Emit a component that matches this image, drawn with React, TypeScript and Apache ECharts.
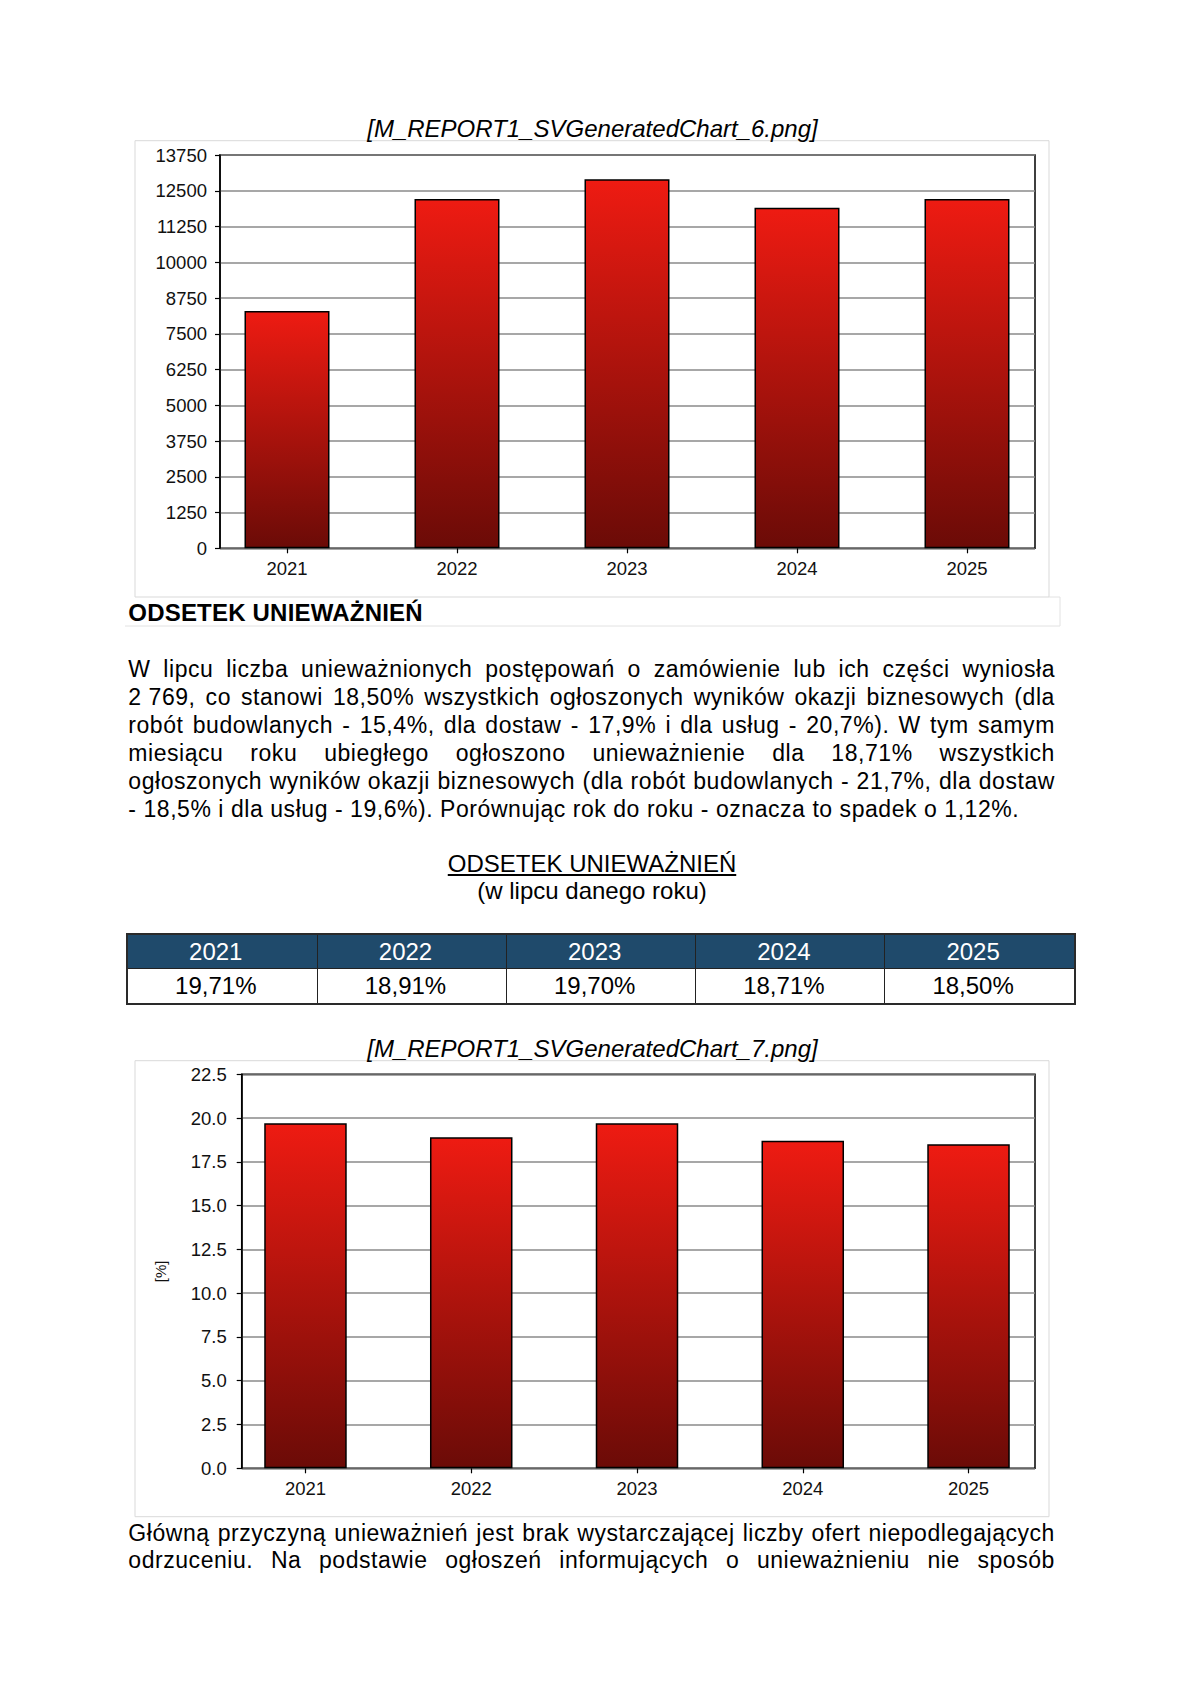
import React, { useEffect, useRef } from "react";
import * as echarts from "echarts";

// ---- data ----
const years = ["2021", "2022", "2023", "2024", "2025"];
const countValues = [8300, 12210, 12900, 11910, 12210];
const percentValues = [19.71, 18.91, 19.7, 18.71, 18.5];
const percentLabels = ["19,71%", "18,91%", "19,70%", "18,71%", "18,50%"];
const countAxis = { min: 0, max: 13750, interval: 1250 };
const percentAxis = { min: 0, max: 22.5, interval: 2.5 };

const chart1Title = "[M_REPORT1_SVGeneratedChart_6.png]";
const chart2Title = "[M_REPORT1_SVGeneratedChart_7.png]";
const heading = "ODSETEK UNIEWAŻNIEŃ";
const paragraphLines = [
  "W lipcu liczba unieważnionych postępowań o zamówienie lub ich części wyniosła",
  "2\u00a0769, co stanowi 18,50% wszystkich ogłoszonych wyników okazji biznesowych (dla",
  "robót budowlanych - 15,4%, dla dostaw - 17,9% i dla usług - 20,7%). W tym samym",
  "miesiącu roku ubiegłego ogłoszono unieważnienie dla 18,71% wszystkich",
  "ogłoszonych wyników okazji biznesowych (dla robót budowlanych - 21,7%, dla dostaw",
];
const paragraphLastLine =
  "- 18,5% i dla usług - 19,6%). Porównując rok do roku - oznacza to spadek o 1,12%.";
const tableTitle = "ODSETEK UNIEWAŻNIEŃ";
const tableSubtitle = "(w lipcu danego roku)";
const finalLines = [
  "Główną przyczyną unieważnień jest brak wystarczającej liczby ofert niepodlegających",
  "odrzuceniu. Na podstawie ogłoszeń informujących o unieważnieniu nie sposób",
];

const FONT = '"Liberation Sans", Arial, Helvetica, sans-serif';
const BODY_SIZE = 23;
const BODY_SPACING = "0.55px";

function barGradient() {
  return new echarts.graphic.LinearGradient(0, 0, 0, 1, [
    { offset: 0, color: "#EE1B12" },
    { offset: 1, color: "#6B0B07" },
  ]);
}

const axisLabelStyle = { fontFamily: FONT, fontSize: 18.5, color: "#111" };

function JustLine({ text, top }: { text: string; top: number }) {
  const words = text.split(" ");
  return (
    <div
      style={{
        position: "absolute",
        left: 128.3,
        width: 926.7,
        top,
        height: 28,
        lineHeight: "28px",
        fontSize: BODY_SIZE,
        letterSpacing: BODY_SPACING,
        fontFamily: FONT,
        color: "#000",
        display: "flex",
        justifyContent: "space-between",
        whiteSpace: "nowrap",
      }}
    >
      {words.map((w, i) => (
        <span key={i}>{w}</span>
      ))}
    </div>
  );
}

export default function App() {
  const ref = useRef<HTMLDivElement>(null);

  useEffect(() => {
    if (!ref.current) return;
    const chart = echarts.init(ref.current, null, { renderer: "svg" });

    const g1 = { left: 220, top: 155, width: 815, height: 393.3 };
    const g2 = { left: 241.7, top: 1074.3, width: 793.3, height: 394 };

    chart.setOption({
      animation: false,
      backgroundColor: "transparent",
      textStyle: { fontFamily: FONT },
      graphic: [
        {
          type: "rect",
          shape: { x: 135, y: 140.7, width: 914, height: 456.3 },
          style: { fill: "none", stroke: "#d9d9d9", lineWidth: 1 },
          z: -10,
        },
        {
          type: "polyline",
          shape: { points: [[1049, 597], [1060, 597], [1060, 626], [125, 626]] },
          style: { fill: "none", stroke: "#e2e2e2", lineWidth: 1 },
          z: -10,
        },
        {
          type: "rect",
          shape: { x: 135, y: 1060.7, width: 914, height: 456 },
          style: { fill: "none", stroke: "#d9d9d9", lineWidth: 1 },
          z: -10,
        },
        {
          type: "text",
          x: 592.5,
          y: 128.4,
          style: {
            text: chart1Title,
            fontFamily: FONT,
            fontStyle: "italic",
            fontSize: 24,
            fill: "#000",
            align: "center",
            verticalAlign: "middle",
          },
        },
        {
          type: "text",
          x: 592.5,
          y: 1048.4,
          style: {
            text: chart2Title,
            fontFamily: FONT,
            fontStyle: "italic",
            fontSize: 24,
            fill: "#000",
            align: "center",
            verticalAlign: "middle",
          },
        },
      ],
      grid: [
        { ...g1, show: true, borderColor: "#000", borderWidth: 1.5, backgroundColor: "transparent" },
        { left: 202, top: g1.top, width: 850, height: g1.height, show: false },
        { ...g2, show: true, borderColor: "#000", borderWidth: 1.5, backgroundColor: "transparent" },
        { left: 222.6, top: g2.top, width: 828.8, height: g2.height, show: false },
      ],
      xAxis: [
        { type: "category", gridIndex: 0, data: years, show: false },
        {
          type: "category",
          gridIndex: 1,
          data: years,
          axisLine: { show: false },
          axisTick: { show: true, alignWithLabel: true, length: 5, lineStyle: { color: "#000", width: 1.2 } },
          axisLabel: { ...axisLabelStyle, margin: 11 },
          splitLine: { show: false },
        },
        { type: "category", gridIndex: 2, data: years, show: false },
        {
          type: "category",
          gridIndex: 3,
          data: years,
          axisLine: { show: false },
          axisTick: { show: true, alignWithLabel: true, length: 5, lineStyle: { color: "#000", width: 1.2 } },
          axisLabel: { ...axisLabelStyle, margin: 11 },
          splitLine: { show: false },
        },
      ],
      yAxis: [
        {
          type: "value",
          gridIndex: 0,
          ...countAxis,
          axisLine: { show: true, lineStyle: { color: "#000", width: 1.5 } },
          axisTick: { show: true, length: 5, lineStyle: { color: "#000", width: 1.2 } },
          axisLabel: { ...axisLabelStyle, margin: 13, formatter: (v: number) => String(v) },
          splitLine: { show: true, lineStyle: { color: "#8a8a8a", width: 1.5 } },
        },
        { type: "value", gridIndex: 1, ...countAxis, show: false, splitLine: { show: false } },
        {
          type: "value",
          gridIndex: 2,
          ...percentAxis,
          name: "[%]",
          nameLocation: "middle",
          nameRotate: 90,
          nameGap: 74,
          nameTextStyle: { fontFamily: FONT, fontSize: 15, color: "#111" },
          axisLine: { show: true, lineStyle: { color: "#000", width: 1.5 } },
          axisTick: { show: true, length: 5, lineStyle: { color: "#000", width: 1.2 } },
          axisLabel: { ...axisLabelStyle, margin: 15, formatter: (v: number) => v.toFixed(1) },
          splitLine: { show: true, lineStyle: { color: "#8a8a8a", width: 1.5 } },
        },
        { type: "value", gridIndex: 3, ...percentAxis, show: false, splitLine: { show: false } },
      ],
      series: [
        {
          type: "bar",
          xAxisIndex: 1,
          yAxisIndex: 1,
          data: countValues,
          barWidth: 85,
          itemStyle: { color: barGradient(), borderColor: "#000", borderWidth: 1.5 },
        },
        {
          type: "bar",
          xAxisIndex: 3,
          yAxisIndex: 3,
          data: percentValues,
          barWidth: 82.5,
          itemStyle: { color: barGradient(), borderColor: "#000", borderWidth: 1.5 },
        },
      ],
    });

    return () => chart.dispose();
  }, []);

  const paraTop0 = 655.2;
  const lh = 27.9;

  return (
    <div
      style={{
        position: "absolute",
        left: 0,
        top: 0,
        width: 1200,
        height: 1696,
        background: "#fff",
        overflow: "hidden",
        fontFamily: FONT,
      }}
    >
      <div ref={ref} style={{ position: "absolute", left: 0, top: 0, width: 1200, height: 1696 }} />

      <div
        style={{
          position: "absolute",
          left: 128.3,
          top: 600.7,
          fontSize: 24,
          lineHeight: "24px",
          fontWeight: "bold",
          letterSpacing: "0.2px",
          whiteSpace: "nowrap",
          color: "#000",
        }}
      >
        {heading}
      </div>

      {paragraphLines.map((t, i) => (
        <JustLine key={i} text={t} top={paraTop0 + i * lh} />
      ))}
      <div
        style={{
          position: "absolute",
          left: 128.3,
          top: paraTop0 + paragraphLines.length * lh,
          height: 28,
          lineHeight: "28px",
          fontSize: BODY_SIZE,
          letterSpacing: BODY_SPACING,
          whiteSpace: "nowrap",
          color: "#000",
        }}
      >
        {paragraphLastLine}
      </div>

      <div
        style={{
          position: "absolute",
          left: 392,
          width: 400,
          top: 849.9,
          textAlign: "center",
          fontSize: 24,
          lineHeight: "27px",
          color: "#000",
          whiteSpace: "nowrap",
        }}
      >
        <span style={{ textDecoration: "underline" }}>{tableTitle}</span>
      </div>
      <div
        style={{
          position: "absolute",
          left: 392,
          width: 400,
          top: 876.5,
          textAlign: "center",
          fontSize: 24,
          lineHeight: "27px",
          color: "#000",
          whiteSpace: "nowrap",
        }}
      >
        {tableSubtitle}
      </div>

      <div
        style={{
          position: "absolute",
          left: 125.7,
          top: 933.3,
          width: 950,
          height: 72,
          boxSizing: "border-box",
          border: "2px solid #2a2a2a",
          display: "grid",
          gridTemplateColumns: "repeat(5, 1fr)",
          gridTemplateRows: "1fr 1fr",
          fontSize: 24,
        }}
      >
        {years.map((y, i) => (
          <div
            key={"h" + i}
            style={{
              background: "#1F4A6B",
              color: "#fff",
              display: "flex",
              alignItems: "center",
              justifyContent: "center",
              paddingRight: 13,
              borderLeft: i > 0 ? "1.5px solid #222" : "none",
              borderBottom: "1.5px solid #222",
            }}
          >
            {y}
          </div>
        ))}
        {percentLabels.map((p, i) => (
          <div
            key={"d" + i}
            style={{
              background: "#fff",
              color: "#000",
              display: "flex",
              alignItems: "center",
              justifyContent: "center",
              paddingRight: 13,
              borderLeft: i > 0 ? "1.5px solid #222" : "none",
            }}
          >
            {p}
          </div>
        ))}
      </div>

      {finalLines.map((t, i) => (
        <JustLine key={"f" + i} text={t} top={1518.5 + i * lh} />
      ))}
    </div>
  );
}
